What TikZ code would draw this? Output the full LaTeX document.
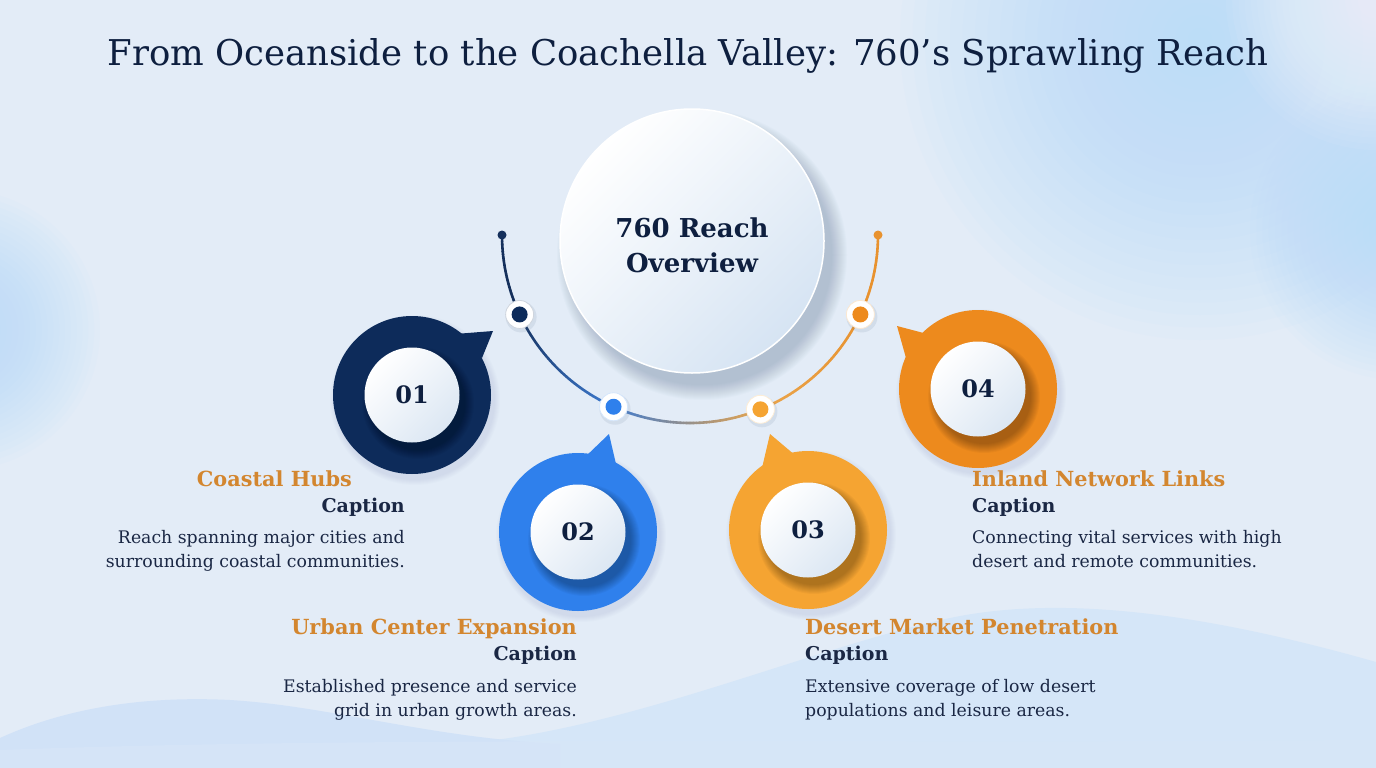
\documentclass[tikz,border=0pt]{standalone}
\usepackage{fontspec}
\setmainfont{DejaVu Serif}
\usetikzlibrary{calc}
\definecolor{bg}{HTML}{E3ECF7}
\definecolor{glow}{HTML}{B8DDF8}
\definecolor{gloww}{HTML}{F6F9FD}
\definecolor{wavec}{HTML}{D1E2F7}
\definecolor{wavec2}{HTML}{D5E6F8}
\definecolor{titlec}{HTML}{0E1F3F}
\definecolor{textc}{HTML}{1A2744}
\definecolor{headc}{HTML}{D3862F}
\definecolor{cnavy}{HTML}{0D2B5A}
\definecolor{cblue}{HTML}{2F80EC}
\definecolor{clor}{HTML}{F5A432}
\definecolor{cor}{HTML}{ED8A1D}
\definecolor{arcnavy}{HTML}{15305C}
\definecolor{arcblue}{HTML}{3E7BD0}
\definecolor{arclor}{HTML}{E9A54C}
\definecolor{arcor}{HTML}{E8922F}
\definecolor{hubb}{HTML}{D6E4F3}
\definecolor{innerb}{HTML}{DCE7F3}
\definecolor{shadowc}{HTML}{5F7491}
\tikzset{
  titletext/.style={font=\fontsize{35.5}{40}\selectfont, text=titlec, inner sep=0pt},
  headtext/.style={font=\bfseries\fontsize{20.8}{24}\selectfont, text=headc, inner sep=0pt},
  captext/.style={font=\bfseries\fontsize{19}{23}\selectfont, text=textc, inner sep=0pt},
  bodytext/.style={font=\fontsize{17.3}{24}\selectfont, text=textc, inner sep=0pt},
  hubtext/.style={font=\bfseries\fontsize{26}{34}\selectfont, text=titlec, inner sep=0pt},
  numtext/.style={font=\bfseries\fontsize{24}{28}\selectfont, text=titlec, inner sep=0pt},
  ringnode/.style={circle, fill=#1, minimum size=158pt, inner sep=0pt},
  innernode/.style={circle, inner sep=0pt, minimum size=95pt, top color=white, bottom color=innerb, shading angle=45},
  markernode/.style={circle, fill=white, minimum size=28pt, inner sep=0pt, draw=#1!20, line width=0.8pt},
  enddot/.style={circle, fill=#1, minimum size=9pt, inner sep=0pt},
  arcline/.style={line width=2.6pt, line cap=round},
}
\newcommand\softglow[4]{% x, y, radius, colour
  \foreach \k in {1,...,24} \fill[#4, opacity=0.06] (#1,#2) circle ({#3*\k/24});
}
\newcommand\mybadge[8]{%
  \foreach \k in {1,...,6} \fill[shadowc, opacity=0.02] (#2+3,#3+5) circle ({79+7-\k});
  \fill[#4] #6 -- #7 -- #8 -- cycle;
  \node[ringnode=#4] (#1) at (#2,#3) {};
  \foreach \k in {1,...,10} \fill[black, opacity=0.03] (#2+6,#3+8) circle ({47+10-\k});
  \node[innernode] (#1i) at (#2,#3) {};
  \node[numtext] (#1n) at (#1i) {#5};
}
\begin{document}
\begin{tikzpicture}[x=1pt,y=-1pt]
\useasboundingbox (0,0) rectangle (1376,768);
% background
\fill[bg] (0,0) rectangle (1376,768);
\begin{scope}
\clip (0,0) rectangle (1376,768);
\softglow{1200}{40}{300}{glow}
\softglow{1400}{230}{150}{glow}
\softglow{1376}{0}{150}{gloww}
\softglow{-40}{330}{140}{glow}
\end{scope}
% waves
\fill[wavec2] (430,768) -- (430,745) .. controls (600,742) and (800,650) .. (950,618) .. controls (1060,595) and (1200,612) .. (1376,662) -- (1376,768) -- cycle;
\fill[wavec] (0,768) -- (0,738) .. controls (70,706) and (150,696) .. (230,700) .. controls (330,706) and (430,738) .. (560,744) -- (560,768) -- cycle;
\fill[wavec!60!bg, opacity=0.6] (0,768) -- (0,750) .. controls (400,735) and (900,745) .. (1376,740) -- (1376,768) -- cycle;
% title
\node[titletext, anchor=base] (title) at (688,66) {From Oceanside to the Coachella Valley: 760’s Sprawling Reach};
% hub shadow and hub
\foreach \k in {1,...,16} \fill[shadowc, opacity=0.025] (702,255) circle ({130+16-\k});
\node[circle, minimum size=264pt, inner sep=0pt, top color=white, bottom color=hubb, shading angle=45, draw=white, line width=1.5pt] (hub) at (692,241) {};
\node[hubtext, anchor=base] (hubl1) at (692,237) {760 Reach};
\node[hubtext, anchor=base] (hubl2) at (692,272) {Overview};
% arc connector
\coordinate (e1) at (502,235);
\coordinate (e2) at (878,235);
\foreach \a in {155,...,179} \draw[arcline, arcnavy] ({690+188*cos(\a)},{235+188*sin(\a)}) -- ({690+188*cos(\a+1)},{235+188*sin(\a+1)});
\foreach \a in {114,...,154}{\pgfmathsetmacro\p{(\a-114)/41*100}
  \draw[arcline, color=arcnavy!\p!arcblue] ({690+188*cos(\a)},{235+188*sin(\a)}) -- ({690+188*cos(\a+1)},{235+188*sin(\a+1)});}
\foreach \a in {68,...,113}{\pgfmathsetmacro\p{(\a-68)/46*100}
  \draw[arcline, color=arcblue!\p!arclor] ({690+188*cos(\a)},{235+188*sin(\a)}) -- ({690+188*cos(\a+1)},{235+188*sin(\a+1)});}
\foreach \a in {25,...,67}{\pgfmathsetmacro\p{(\a-25)/43*100}
  \draw[arcline, color=arclor!\p!arcor] ({690+188*cos(\a)},{235+188*sin(\a)}) -- ({690+188*cos(\a+1)},{235+188*sin(\a+1)});}
\foreach \a in {0,...,24} \draw[arcline, arcor] ({690+188*cos(\a)},{235+188*sin(\a)}) -- ({690+188*cos(\a+1)},{235+188*sin(\a+1)});
\node[enddot=arcnavy] (d1) at (e1) {};
\node[enddot=arcor] (d2) at (e2) {};
% markers
\foreach \n/\ang/\c in {m1/155/cnavy, m2/114/cblue, m3/68/clor, m4/25/cor}{
  \fill[shadowc, opacity=0.12] ({690+188*cos(\ang)+1.5},{235+188*sin(\ang)+2.5}) circle (15.5);
  \node[markernode=\c] (\n) at ({690+188*cos(\ang)},{235+188*sin(\ang)}) {};
  \fill[\c] (\n) circle (8);
}
% badges
\mybadge{b1}{412}{395}{cnavy}{01}{(455,334)}{(493,331)}{(482,358)}
\mybadge{b2}{578}{532}{cblue}{02}{(584,458)}{(609,434)}{(616,464)}
\mybadge{b3}{808}{530}{clor}{03}{(796,456)}{(770,434)}{(762,468)}
\mybadge{b4}{978}{389}{cor}{04}{(935,336)}{(897,326)}{(906,358)}
% texts group 1
\node[headtext, anchor=base east] (h1) at (352,486) {Coastal Hubs};
\node[captext, anchor=base east] (c1) at (405,512) {Caption};
\node[bodytext, anchor=base east] (t1a) at (405,543) {Reach spanning major cities and};
\node[bodytext, anchor=base east] (t1b) at (405,567) {surrounding coastal communities.};
% group 4
\node[headtext, anchor=base west] (h4) at (972,486) {Inland Network Links};
\node[captext, anchor=base west] (c4) at (972,512) {Caption};
\node[bodytext, anchor=base west] (t4a) at (972,543) {Connecting vital services with high};
\node[bodytext, anchor=base west] (t4b) at (972,567) {desert and remote communities.};
% group 2
\node[headtext, anchor=base east] (h2) at (577,634) {Urban Center Expansion};
\node[captext, anchor=base east] (c2) at (577,660) {Caption};
\node[bodytext, anchor=base east] (t2a) at (577,692) {Established presence and service};
\node[bodytext, anchor=base east] (t2b) at (577,716) {grid in urban growth areas.};
% group 3
\node[headtext, anchor=base west] (h3) at (805,634) {Desert Market Penetration};
\node[captext, anchor=base west] (c3) at (805,660) {Caption};
\node[bodytext, anchor=base west] (t3a) at (805,692) {Extensive coverage of low desert};
\node[bodytext, anchor=base west] (t3b) at (805,716) {populations and leisure areas.};
\end{tikzpicture}
\end{document}
